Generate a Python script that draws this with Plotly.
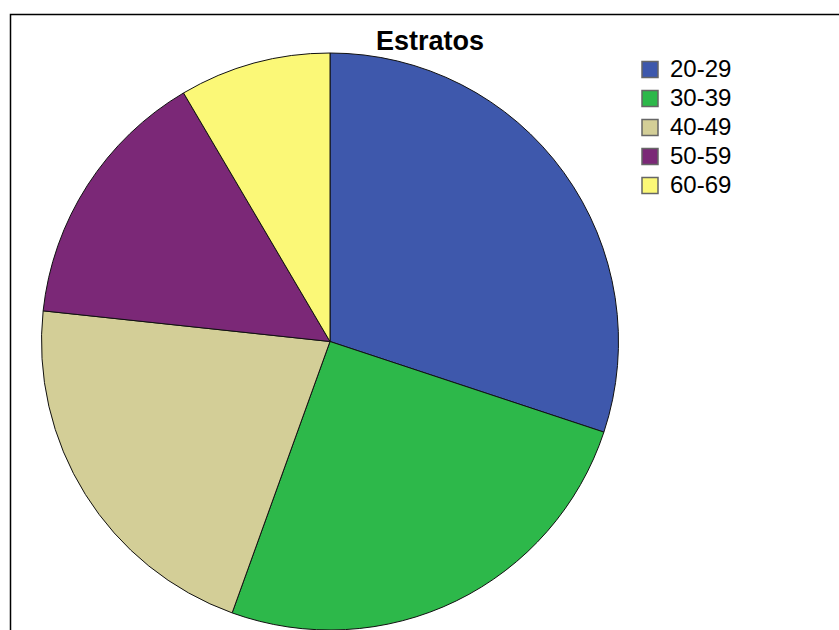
import plotly.graph_objects as go

# Age strata and counts
strata = ["20-29", "30-39", "40-49", "50-59", "60-69"]
counts = [71, 60, 50, 35, 20]
slice_colors = ["#3e58ac", "#2db84a", "#d3ce97", "#7b2877", "#fbf877"]

W, H = 839, 630
FONT = "Liberation Sans, Arial, sans-serif"

fig = go.Figure()

fig.add_trace(
    go.Pie(
        labels=strata,
        values=counts,
        sort=False,
        direction="clockwise",
        rotation=0,
        textinfo="none",
        hoverinfo="label+value+percent",
        showlegend=False,
        marker=dict(colors=slice_colors, line=dict(color="#111111", width=1)),
        domain=dict(x=[41 / W, 619 / W], y=[0.0, 577 / H]),
    )
)

# Legend entries with larger square swatches, one per stratum
for name, color in zip(strata, slice_colors):
    fig.add_trace(
        go.Scatter(
            x=[None],
            y=[None],
            mode="markers",
            name=f"<span style='font-size:24px'>{name}</span>",
            hoverinfo="skip",
            marker=dict(symbol="square", size=22, color=color,
                        line=dict(color="#666666", width=1.5)),
        )
    )

fig.update_layout(
    width=W,
    height=H,
    margin=dict(l=0, r=0, t=0, b=0),
    paper_bgcolor="white",
    plot_bgcolor="white",
    font=dict(family=FONT, color="black"),
    xaxis=dict(visible=False),
    yaxis=dict(visible=False),
    title=dict(
        text="<b>Estratos</b>",
        x=430 / W,
        xanchor="center",
        y=1 - 41 / H,
        yanchor="middle",
        font=dict(size=27, family=FONT, color="black"),
    ),
    legend=dict(
        x=630 / W,
        xanchor="left",
        y=1 - 50 / H,
        yanchor="top",
        font=dict(size=20, family=FONT, color="black"),
        bgcolor="rgba(0,0,0,0)",
        tracegroupgap=0,
        itemsizing="trace",
    ),
    shapes=[
        # chart frame
        dict(
            type="rect",
            xref="paper",
            yref="paper",
            x0=10.5 / W,
            x1=1.05,
            y0=-0.05,
            y1=1 - 14.5 / H,
            line=dict(color="black", width=1.5),
            fillcolor="rgba(0,0,0,0)",
            layer="below",
        )
    ],
)

fig.write_html("out.html")
